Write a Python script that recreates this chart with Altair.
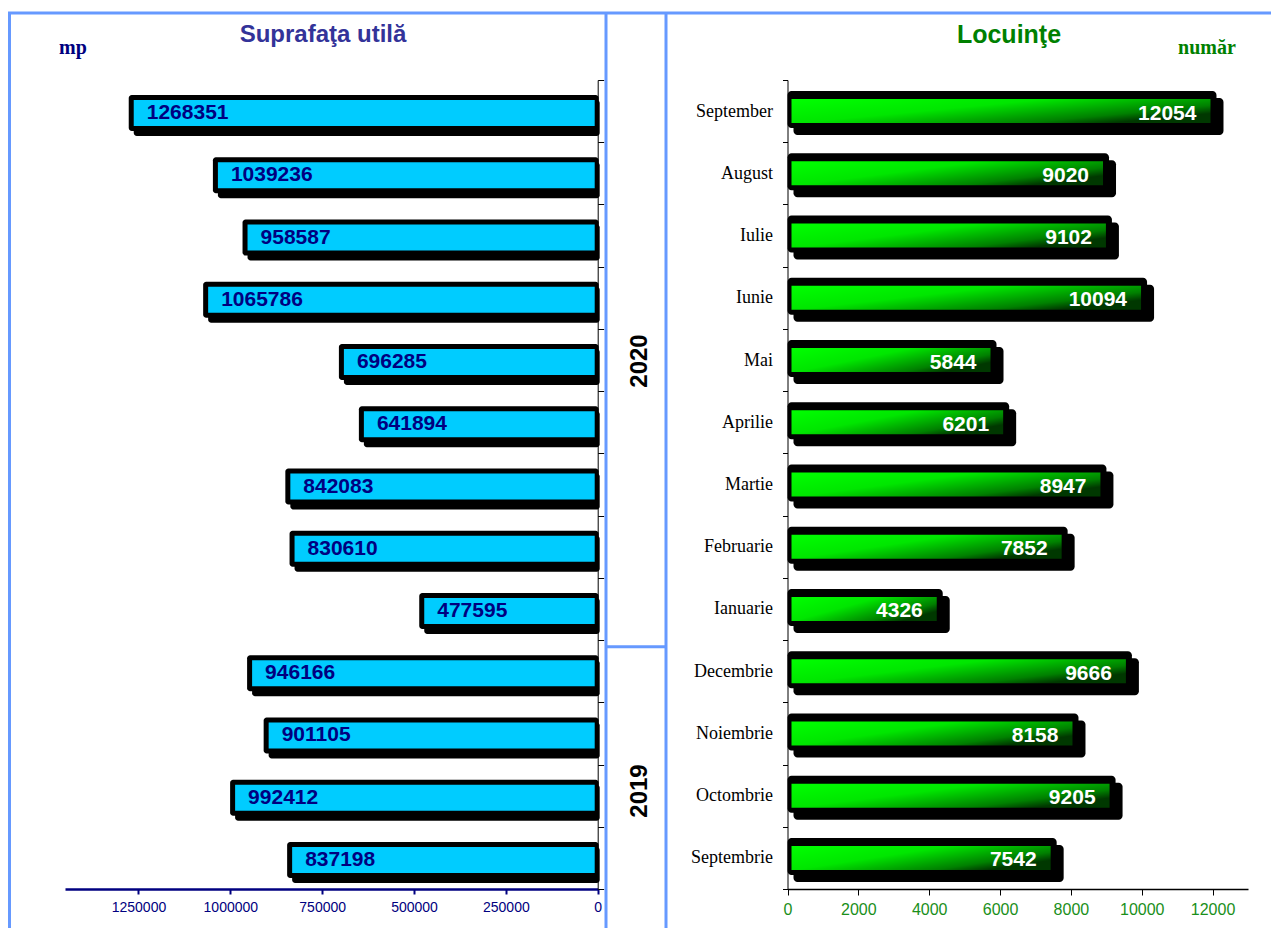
import altair as alt
import pandas as pd

months = ["September", "August", "Iulie", "Iunie", "Mai", "Aprilie", "Martie",
          "Februarie", "Ianuarie", "Decembrie", "Noiembrie", "Octombrie", "Septembrie"]
area_mp = [1268351, 1039236, 958587, 1065786, 696285, 641894, 842083,
           830610, 477595, 946166, 901105, 992412, 837198]
dwellings = [12054, 9020, 9102, 10094, 5844, 6201, 8947,
             7852, 4326, 9666, 8158, 9205, 7542]
left_ticks = [0, 250000, 500000, 750000, 1000000, 1250000]
right_ticks = [0, 2000, 4000, 6000, 8000, 10000, 12000]

df = pd.DataFrame({"luna": months, "mp": area_mp, "nr": dwellings, "zero": 0})

W, H = 1256, 881
BLUE = "#6699FF"

# ---------- left panel (Suprafata utila) ----------
xL = alt.Scale(domain=[0, 1450000], range=[582.7, 50], nice=False, zero=False)
yL = alt.Scale(domain=months, range=[72, 881], paddingInner=0, paddingOuter=0)
axL_x = alt.Axis(orient="bottom", values=left_ticks, format="d", title=None,
                 labelColor="#000080", labelFont="Liberation Sans",
                 labelFontSize=14, domainColor="#000080", domainWidth=2.5,
                 tickColor="#000080", tickWidth=2, tickSize=5, labelPadding=6,
                 labelFlush=False, labelOverlap=False, grid=False)
axL_y = alt.Axis(orient="right", offset=582.7 - W, labels=False, title=None,
                 tickBand="extent", domainColor="black", tickColor="black",
                 tickSize=6, domainWidth=1, tickWidth=1, grid=False)

XL = alt.X("mp:Q", scale=xL, axis=axL_x)
YL = alt.Y("luna:N", scale=yL, axis=axL_y, sort=months)

base_L = alt.Chart(df)
shadow_L = base_L.mark_bar(color="black", size=36, cornerRadius=3,
                           xOffset=2, x2Offset=2, yOffset=7).encode(x=XL, x2="zero:Q", y=YL)
frame_L = base_L.mark_bar(color="black", size=36, cornerRadius=3,
                          xOffset=-3, x2Offset=1, yOffset=2).encode(x=XL, x2="zero:Q", y=YL)
fill_L = base_L.mark_bar(color="#00CCFF", size=26, xOffset=2, x2Offset=-3,
                         yOffset=2).encode(x=XL, x2="zero:Q", y=YL)
text_L = base_L.mark_text(align="left", baseline="middle", dx=15, dy=2,
                          font="Liberation Sans", fontWeight="bold", fontSize=21,
                          color="#000080").encode(x=XL, y=YL, text="mp:Q")
left = alt.layer(shadow_L, frame_L, fill_L, text_L)

# ---------- right panel (Locuinte) ----------
xR = alt.Scale(domain=[0, 13000], range=[772.5, 1233], nice=False, zero=False)
yR = alt.Scale(domain=months, range=[72, 881], paddingInner=0, paddingOuter=0)
axR_x = alt.Axis(orient="bottom", values=right_ticks, format="d", title=None,
                 labelColor="#1A8F1A", labelFont="Liberation Sans",
                 labelFontSize=16, domainColor="black", domainWidth=1.5,
                 tickColor="black", tickWidth=1, tickSize=6, labelPadding=6,
                 labelFlush=False, labelOverlap=False, grid=False)
axR_y = alt.Axis(orient="left", offset=-772.5, title=None,
                 labelFont="Liberation Serif", labelFontSize=18,
                 labelColor="black", tickBand="extent", tickSize=5,
                 labelPadding=10, domainColor="black", tickColor="black",
                 domainWidth=1, tickWidth=1, grid=False)
XR = alt.X("nr:Q", scale=xR, axis=axR_x)
YR = alt.Y("luna:N", scale=yR, axis=axR_y, sort=months)

green_grad = alt.Gradient(
    gradient="linear", x1=0, y1=0, x2=1, y2=0.6,
    stops=[alt.GradientStop(color="#00FF00", offset=0),
           alt.GradientStop(color="#00E600", offset=0.45),
           alt.GradientStop(color="#008000", offset=0.85),
           alt.GradientStop(color="#003800", offset=1)],
)

base_R = alt.Chart(df)
shadow_R = base_R.mark_bar(color="black", size=37, cornerRadius=4,
                           xOffset=9, x2Offset=6, yOffset=5.5).encode(x=XR, x2="zero:Q", y=YR)
frame_R = base_R.mark_bar(color="black", size=37, cornerRadius=4,
                          xOffset=2, x2Offset=0, yOffset=-1.5).encode(x=XR, x2="zero:Q", y=YR)
fill_R = base_R.mark_bar(color=green_grad, size=24, xOffset=-4,
                         x2Offset=4).encode(x=XR, x2="zero:Q", y=YR)
text_R = base_R.mark_text(align="right", baseline="middle", dx=-18, dy=2.5,
                          font="Liberation Sans", fontWeight="bold", fontSize=21,
                          color="white").encode(x=XR, y=YR, text="nr:Q")
right = alt.layer(shadow_R, frame_R, fill_R, text_R)

# ---------- frame lines and titles ----------
deco = alt.Chart(pd.DataFrame({"k": [0]}))

def vline(x, y1, y2):
    return deco.mark_rule(color=BLUE, strokeWidth=3).encode(
        x=alt.value(x), y=alt.value(y1), y2=alt.value(y2))

def hline(x1, x2, y):
    return deco.mark_rule(color=BLUE, strokeWidth=3).encode(
        x=alt.value(x1), x2=alt.value(x2), y=alt.value(y))

borders = [
    hline(-7, W, 5),
    vline(-5.5, 5, 930),
    vline(591, 5, 930),
    vline(651, 5, 930),
    hline(591, 651, 638.7),
]

def label(txt, x, y, size, color, font="Liberation Sans", angle=0):
    return deco.mark_text(align="center", baseline="middle", font=font,
                          fontWeight="bold", fontSize=size, color=color,
                          angle=angle).encode(
        x=alt.value(x), y=alt.value(y), text=alt.value(txt))

titles = [
    label("Suprafaţa utilă", 308, 27, 24, "#333399"),
    label("mp", 58, 40, 20, "#000080", font="Liberation Serif"),
    label("Locuinţe", 994, 27, 25, "#008000"),
    label("număr", 1192, 40, 20, "#008000", font="Liberation Serif"),
    label("2020", 625, 353, 24, "black", angle=270),
    label("2019", 625, 783, 24, "black", angle=270),
]

chart = alt.layer(left, right, *borders, *titles).resolve_scale(
    x="independent", y="independent"
).resolve_axis(
    x="independent", y="independent"
).properties(
    width=W, height=H,
    padding={"left": 7, "top": 0, "right": 0, "bottom": 39},
    autosize=alt.AutoSizeParams(type="none"),
    background="white",
).configure_view(stroke=None)

chart.save("out.html", embed_options={"renderer": "svg", "actions": False})
